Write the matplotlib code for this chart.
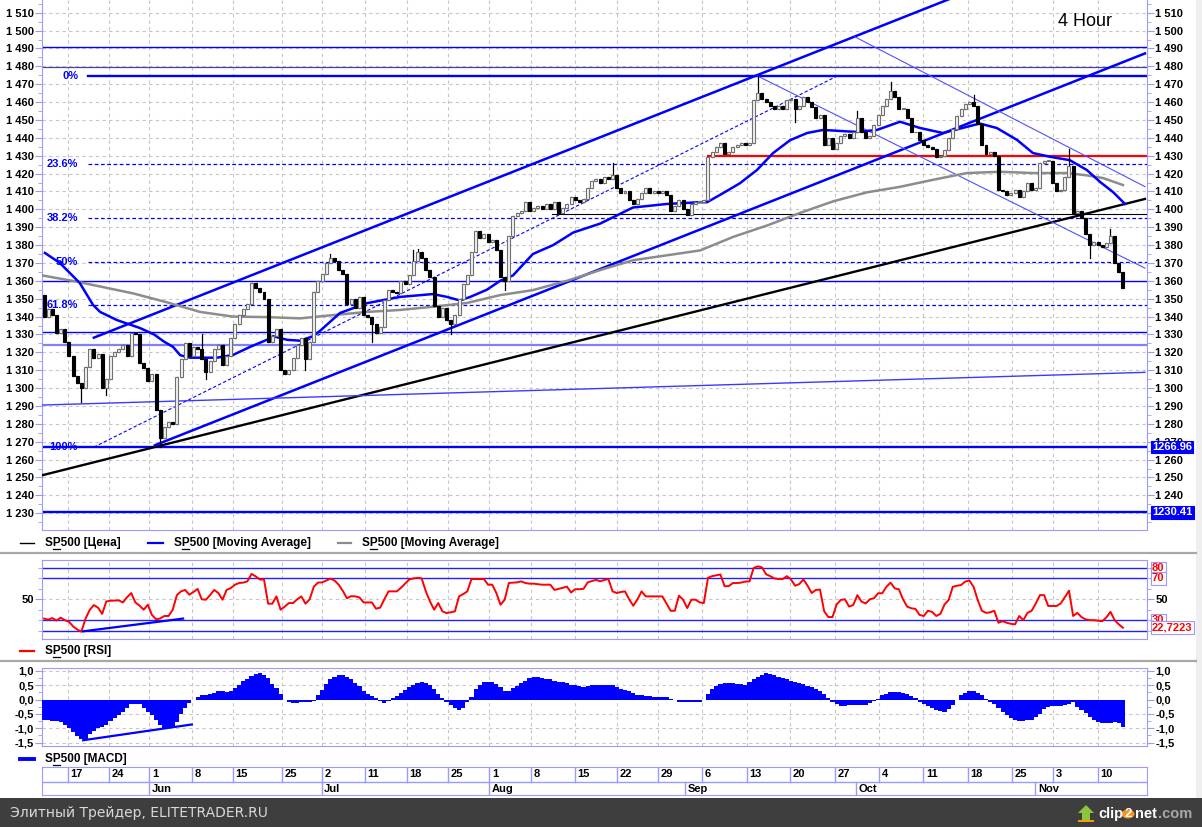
import matplotlib
matplotlib.use('Agg')
import matplotlib.pyplot as plt
from matplotlib.patches import Rectangle, Circle, Polygon
from matplotlib.lines import Line2D
from matplotlib.ticker import MultipleLocator, FixedLocator, FuncFormatter

plt.rcParams['font.family'] = ['Liberation Sans', 'DejaVu Sans']
plt.rcParams['font.weight'] = 'bold'

# ---------------- data (bar index = one 4-hour bar) ----------------
first_open = 1352
closes = [
    1340, 1344, 1341, 1331, 1333, 1326, 1318, 1307, 1303, 1300,
    1312, 1322, 1317, 1319, 1300, 1305, 1318, 1320, 1322, 1324,
    1318, 1331, 1330, 1314, 1311, 1304, 1308, 1288, 1272, 1278,
    1281, 1280, 1306, 1316, 1325, 1318, 1323, 1322, 1316, 1309,
    1315, 1322, 1324, 1313, 1318, 1328, 1336, 1341, 1344, 1347,
    1359, 1356, 1354, 1350, 1326, 1329, 1333, 1310, 1308, 1310,
    1317, 1324, 1328, 1316, 1326, 1354, 1360, 1364, 1370, 1373,
    1371, 1366, 1364, 1347, 1350, 1345, 1351, 1341, 1340, 1336,
    1331, 1334, 1349, 1355, 1354, 1353, 1360, 1358, 1363, 1371,
    1376, 1373, 1366, 1362, 1346, 1340, 1345, 1338, 1336, 1341,
    1350, 1358, 1363, 1376, 1388, 1384, 1386, 1382, 1383, 1377,
    1362, 1360, 1385, 1396, 1398, 1399, 1404, 1399, 1401, 1402,
    1400, 1403, 1400, 1404, 1398, 1401, 1403, 1407, 1405, 1404,
    1406, 1412, 1416, 1417, 1415, 1418, 1417, 1419, 1412, 1409,
    1410, 1405, 1403, 1406, 1409, 1412, 1409, 1410, 1409, 1410,
    1408, 1399, 1402, 1405, 1400, 1397, 1403, 1404, 1404, 1405,
    1429, 1432, 1435, 1437, 1431, 1432, 1435, 1436, 1437, 1436,
    1437, 1461, 1465, 1462, 1460, 1458, 1456, 1458, 1456, 1461,
    1462, 1456, 1458, 1463, 1460, 1457, 1451, 1453, 1436, 1440,
    1434, 1437, 1441, 1442, 1440, 1443, 1451, 1443, 1440, 1441,
    1447, 1453, 1458, 1462, 1466, 1463, 1456, 1456, 1451, 1443,
    1443, 1439, 1436, 1435, 1434, 1429, 1430, 1433, 1440, 1445,
    1452, 1456, 1459, 1460, 1458, 1448, 1436, 1431, 1432, 1430,
    1411, 1410, 1408, 1409, 1411, 1407, 1410, 1415, 1411, 1412,
    1426, 1427, 1427, 1415, 1410, 1411, 1418, 1424, 1398, 1399,
    1395, 1386, 1380, 1382, 1380, 1379, 1381, 1385, 1370, 1365,
    1356]
wick_hi = {38: 1330, 69: 1375, 89: 1377, 90: 1378, 137: 1426, 172: 1474.5,
           196: 1455, 204: 1471, 224: 1464, 247: 1434, 257: 1389}
wick_lo = {9: 1292, 15: 1296, 28: 1267, 39: 1305, 63: 1310, 79: 1326,
           98: 1330, 111: 1355, 181: 1449, 252: 1373}

ma_fast_x = [0.2, 3.8, 8.6, 11.8, 13.5, 17.6, 23.1, 26.5, 28.9, 31.1, 32.8, 35.2, 41.7, 45.5,
             49.6, 53.7, 55.2, 58.6, 61.7, 64.8, 66.5, 71.3, 77.8, 85.8, 93.7,
             97.1, 100.2, 102.7, 106.7, 109.9, 113.0, 117.8, 122.7, 127.5, 134.0,
             141.9, 150.1, 158.1, 159.8, 163.6, 167.7, 171.8, 175.7, 179.8, 183.9,
             187.7, 195.9, 200.7, 206.3, 211.1, 216.6, 225.5, 229.6, 234.5, 238.3,
             242.4, 247.2, 251.3, 254.5, 257.6, 260.5]
ma_fast_y = [1375.6, 1370, 1358.8, 1346.5, 1342.6, 1338, 1333.6, 1330, 1326, 1323, 1318.4, 1317, 1317, 1318.5,
             1323, 1327, 1329, 1327, 1326.5, 1329, 1332, 1342, 1347.5, 1351, 1352.6,
             1351, 1349, 1351, 1355, 1360, 1363, 1375, 1380, 1387, 1392,
             1401, 1403, 1404, 1404, 1409, 1414.6, 1422, 1431.5, 1438.7, 1442.7,
             1444.4, 1443.3, 1444.4, 1449, 1445.5, 1442.7, 1448, 1445.5, 1438.8, 1431.5,
             1429.4, 1427.5, 1422, 1415.3, 1409.7, 1403]
ma_slow_x = [-0.4, 8.0, 21.4, 29.6, 37.6, 45.5, 53.7, 61.7, 69.6, 77.8, 85.8, 93.7,
             101.9, 109.9, 117.8, 126.0, 134.0, 141.9, 158.1, 166.1, 174.3, 182.2,
             190.2, 198.3, 206.3, 214.2, 222.4, 230.4, 238.3, 246.5, 251.3, 255.2, 260.0]
ma_slow_y = [1363, 1359.5, 1353, 1348, 1342.6, 1340, 1339.7, 1339, 1340.8, 1342.6, 1343.7, 1345.5,
             1347.6, 1352, 1354.8, 1360, 1366, 1371.5, 1377, 1384.6, 1391, 1398,
             1404.5, 1409.5, 1412.6, 1416.5, 1420.3, 1421, 1420.3, 1420.3, 1419, 1417.5, 1413.6]

rsi = [
    31.5, 30.5, 32, 29.6, 32.4, 30, 28.5, 24, 21, 19,
    31.6, 39.8, 44.5, 42, 36, 48, 48.6, 48.8, 49, 47,
    52, 56, 47, 44, 40, 44.8, 35, 30.8, 31.7, 34,
    34, 40, 54, 57.6, 59, 54.4, 57, 60, 50, 49.6,
    54, 59, 56, 49.6, 59, 60.8, 64, 65.6, 66, 67.2,
    74.3, 72, 69, 69, 45.8, 45.8, 52.8, 40, 43, 46.4,
    46.4, 50, 52.8, 45.8, 50, 62, 66, 66.2, 68, 69.8,
    68, 64, 58, 51, 53, 52.8, 51.8, 47, 47, 47,
    41, 42, 50, 57.6, 57.6, 57.6, 61, 65, 69, 70,
    70.6, 70, 57.6, 48, 40, 46.4, 38.4, 36.8, 37.5, 38.4,
    52.8, 55, 57.6, 69.4, 69.4, 69.4, 69.4, 64, 64, 56,
    44.8, 49.6, 65.6, 66, 66.2, 67.2, 65.6, 65, 65, 64.5,
    64, 64, 64, 59, 60, 61, 62.2, 56.5, 59.7, 59.7,
    60, 66.2, 67.5, 68.7, 67.2, 68.5, 69.4, 57.6, 56, 57,
    57.6, 50, 43.8, 50, 57.6, 52.8, 52.8, 52.8, 52.8, 52.8,
    46, 39, 39, 53.5, 49.6, 41.6, 49.6, 49.6, 47, 46.4,
    70.6, 72.2, 73, 73.8, 62.6, 62.6, 65.6, 65.6, 66, 67,
    67.2, 80, 81.6, 80.6, 74, 72.2, 70, 69.4, 69.4, 72.2,
    69, 63, 64.6, 69, 63, 56, 59, 59.3, 38.5, 33,
    33, 45, 49.4, 50, 43, 44.5, 54, 47.8, 46, 50,
    51, 55.8, 55.8, 62, 66, 60.5, 59.6, 50, 43, 41.4,
    40.8, 35, 34, 39, 38, 34, 36, 45, 49.4, 62,
    63, 63.7, 67, 68, 62, 49.4, 39, 37, 37.5, 39,
    27.5, 29, 27.5, 26.5, 26, 34, 30, 37, 39, 46,
    54, 54, 43.6, 43.6, 43.6, 46, 52, 58.3, 34, 37,
    33, 30.8, 30, 30, 29.5, 29, 32.6, 38, 30, 26,
    22.7223]

macd = [
    -0.72, -0.73, -0.75, -0.76, -0.80, -0.90, -1.00, -1.13, -1.27, -1.38,
    -1.40, -1.20, -1.10, -1.00, -0.96, -0.88, -0.76, -0.64, -0.55, -0.43,
    -0.30, -0.17, -0.14, -0.15, -0.30, -0.45, -0.55, -0.70, -0.90, -0.98,
    -1.01, -0.95, -0.78, -0.50, -0.28, -0.12, -0.02, 0.08, 0.16, 0.16,
    0.20, 0.24, 0.30, 0.30, 0.25, 0.30, 0.40, 0.52, 0.64, 0.70,
    0.82, 0.89, 0.92, 0.87, 0.75, 0.55, 0.40, 0.20, 0.00, -0.10,
    -0.13, -0.12, -0.10, -0.08, -0.10, -0.06, 0.15, 0.32, 0.55, 0.72,
    0.80, 0.86, 0.86, 0.80, 0.70, 0.58, 0.47, 0.30, 0.20, 0.12,
    0.05, -0.05, -0.12, -0.05, 0.04, 0.12, 0.22, 0.32, 0.42, 0.51,
    0.56, 0.60, 0.56, 0.50, 0.35, 0.20, 0.05, -0.08, -0.20, -0.30,
    -0.36, -0.28, -0.10, 0.08, 0.35, 0.50, 0.60, 0.62, 0.62, 0.55,
    0.42, 0.28, 0.30, 0.39, 0.48, 0.58, 0.66, 0.74, 0.77, 0.77,
    0.76, 0.73, 0.70, 0.66, 0.62, 0.60, 0.56, 0.52, 0.50, 0.46,
    0.45, 0.48, 0.50, 0.51, 0.51, 0.52, 0.52, 0.51, 0.45, 0.38,
    0.33, 0.28, 0.22, 0.16, 0.14, 0.13, 0.12, 0.10, 0.10, 0.10,
    0.10, 0.03, -0.03, -0.08, -0.10, -0.10, -0.10, -0.10, -0.09, 0.00,
    0.20, 0.35, 0.47, 0.53, 0.57, 0.57, 0.56, 0.55, 0.53, 0.51,
    0.60, 0.71, 0.80, 0.87, 0.92, 0.90, 0.84, 0.80, 0.76, 0.71,
    0.66, 0.62, 0.57, 0.54, 0.48, 0.42, 0.36, 0.30, 0.20, 0.05,
    -0.08, -0.16, -0.23, -0.22, -0.20, -0.20, -0.20, -0.20, -0.18, -0.13,
    -0.06, 0.02, 0.14, 0.20, 0.26, 0.27, 0.26, 0.24, 0.20, 0.12,
    0.06, -0.08, -0.16, -0.22, -0.30, -0.36, -0.40, -0.44, -0.34, -0.20,
    -0.02, 0.14, 0.24, 0.29, 0.31, 0.22, 0.14, 0.02, -0.08, -0.14,
    -0.28, -0.42, -0.54, -0.66, -0.71, -0.74, -0.74, -0.73, -0.71, -0.60,
    -0.49, -0.32, -0.25, -0.24, -0.23, -0.22, -0.20, -0.15, -0.10, -0.25,
    -0.36, -0.47, -0.62, -0.72, -0.80, -0.82, -0.82, -0.82, -0.78, -0.82,
    -0.95]

day_pos = [5.7, 15.7, 25.4, 35.6, 45.5, 57.3, 66.9, 77.3, 87.4, 97.4, 107.3, 117.3, 128.0,
           138.0, 148.0, 158.5, 169.3, 179.8, 190.6, 201.3, 211.9, 222.6, 233.2, 243.2, 253.9]
day_labels = ['17', '24', '1', '8', '15', '25', '2', '11', '18', '25', '1', '8', '15',
              '22', '29', '6', '13', '20', '27', '4', '11', '18', '25', '3', '10']
month_pos = [25.4, 66.9, 107.3, 154.4, 195.6, 238.9]
month_labels = ['Jun', 'Jul', 'Aug', 'Sep', 'Oct', 'Nov']

# drawn studies (bar index, price)
fib_hi, fib_lo = 1474.51, 1266.96
fib_ratios = [0, 23.6, 38.2, 50, 61.8]
fib_start = 10.6
support_x, support_y = [-0.5, 265.3], [1251.2, 1405.8]
chan_lo_x, chan_lo_y = [26.7, 265.3], [1268.0, 1487.2]
chan_hi_x, chan_hi_y = [12.0, 225.0], [1328.2, 1523.9]
fib_diag_x, fib_diag_y = [12.0, 191.1], [1266.96, 1474.51]
down_hi_x, down_hi_y = [195.4, 265.3], [1496.5, 1412.7]
down_lo_x, down_lo_y = [172.0, 265.3], [1474.51, 1367.1]
drift_x, drift_y = [-0.5, 265.3], [1290.5, 1308.8]
red_level, red_start = 1429.7, 160.0
black_level, black_start = 1397.3, 122.4
thin_levels = [1490.8, 1359.7, 1331.3]
dark_level = 1479.6
pale_level = 1324.3
tag_levels = [1266.96, 1230.41]
rsi_levels = [80, 70, 30, 20]
rsi_div_x, rsi_div_y = [9.4, 33.5], [19.3, 31.5]
macd_div_x, macd_div_y = [9.4, 35.6], [-1.42, -0.87]

# ---------------- figure ----------------
W, H = 1202, 827
fig = plt.figure(figsize=(W / 100, H / 100), dpi=100)
fig.patch.set_facecolor('white')

FRAME = '#9a9aff'
GRID = '#c6c6c6'
BLUE = '#0000ff'
XMIN, XMAX = -0.5, 265.8


def box(x0, y0, x1, y1):
    return [x0 / W, 1 - y1 / H, (x1 - x0) / W, (y1 - y0) / H]


def fpt(x, y):
    return x / W, 1 - y / H


def price_at(ypx):
    return 1510 - (ypx - 12.7) / 1.7875


def style(ax):
    ax.set_xlim(XMIN, XMAX)
    ax.set_xticks([])
    for s in ax.spines.values():
        s.set_color(FRAME)
    for d in day_pos:
        ax.axvline(d, color=GRID, lw=0.8, ls=(0, (3, 3)), zorder=0)
    ax.tick_params(axis='y', which='both', left=True, right=True, labelleft=True,
                   labelright=True, direction='out', color=FRAME, labelcolor='black',
                   labelsize=8, pad=1)
    ax.tick_params(axis='y', which='major', length=5)
    ax.tick_params(axis='y', which='minor', length=3)


def tag(ax, y, s, fc, tc, ec):
    ax.text(1.0045, y, s, transform=ax.get_yaxis_transform(), ha='left', va='center',
            fontsize=8, color=tc, zorder=20, clip_on=False,
            bbox=dict(boxstyle='square,pad=0.12', fc=fc, ec=ec, lw=0.8))


# ---- price panel ----
ax = fig.add_axes(box(42, -2, 1147, 530))
style(ax)
ax.spines['top'].set_visible(False)
ax.set_ylim(price_at(530), price_at(-2))
ax.yaxis.set_major_locator(MultipleLocator(10))
ax.yaxis.set_minor_locator(MultipleLocator(5))
ax.yaxis.set_major_formatter(FuncFormatter(
    lambda v, p: f'{int(round(v)) // 1000} {int(round(v)) % 1000:03d}'))
for lv in range(1230, 1520, 10):
    ax.axhline(lv, color=GRID, lw=0.8, ls=(0, (3, 3)), zorder=0)
# the right-hand 1 230 label sits under the 1230.41 price tag
for t, loc in zip(ax.yaxis.get_major_ticks(), ax.yaxis.get_majorticklocs()):
    if abs(loc - 1230) < 0.5:
        t.label2.set_visible(False)

# horizontal levels
for lv in thin_levels:
    ax.axhline(lv, color=BLUE, lw=1.0, zorder=2)
ax.axhline(dark_level, color='#46469a', lw=0.9, zorder=2)
ax.axhline(pale_level, color='#8080ff', lw=1.6, zorder=2)
for lv in tag_levels:
    ax.axhline(lv, color=BLUE, lw=1.7, zorder=2)
    tag(ax, lv, f'{lv:.2f}', BLUE, 'white', BLUE)
ax.plot([red_start, XMAX], [red_level] * 2, color='#ff0000', lw=1.6, zorder=2)
ax.plot([black_start, XMAX], [black_level] * 2, color='black', lw=0.8, zorder=2)

# fibonacci
for r in fib_ratios:
    lv = fib_hi - r / 100 * (fib_hi - fib_lo)
    if r == 0:
        ax.plot([fib_start, XMAX], [lv, lv], color=BLUE, lw=1.7, zorder=2)
    else:
        ax.plot([fib_start, XMAX], [lv, lv], color=BLUE, lw=0.9, ls=(0, (3, 2)), zorder=2)
    ax.text(8.2, lv, f'{r:g}%', ha='right', va='center', color=BLUE, fontsize=8, zorder=6)
ax.text(8.2, fib_lo, '100%', ha='right', va='center', color=BLUE, fontsize=8, zorder=6)
ax.plot(fib_diag_x, fib_diag_y, color=BLUE, lw=0.8, ls=(0, (3, 2)), zorder=2)

# trend lines
ax.plot(support_x, support_y, color='black', lw=1.7, zorder=3)
ax.plot(chan_lo_x, chan_lo_y, color=BLUE, lw=1.8, zorder=3)
ax.plot(chan_hi_x, chan_hi_y, color=BLUE, lw=1.8, zorder=3)
ax.plot(down_hi_x, down_hi_y, color='#5050ff', lw=0.8, zorder=3)
ax.plot(down_lo_x, down_lo_y, color='#5050ff', lw=0.8, zorder=3)
ax.plot(drift_x, drift_y, color='#3a3aff', lw=1.0, zorder=3)

# moving averages
ax.plot(ma_slow_x, ma_slow_y, color='#8c8c8c', lw=1.8, zorder=4)
ax.plot(ma_fast_x, ma_fast_y, color=BLUE, lw=1.8, zorder=4)

# candles
opens = [first_open] + closes[:-1]
for i, (o, c) in enumerate(zip(opens, closes)):
    hi = wick_hi.get(i, max(o, c))
    lo = wick_lo.get(i, min(o, c))
    ax.plot([i, i], [lo, hi], color='black', lw=0.9, zorder=5)
    up = c >= o
    ax.add_patch(Rectangle((i - 0.36, min(o, c)), 0.72, max(abs(c - o), 0.5),
                           facecolor='#f2f2f2' if up else 'black',
                           edgecolor='#707070' if up else 'black', lw=0.8, zorder=6))

fig.text(*fpt(1085, 22), '4 Hour', ha='center', va='center', fontsize=13,
         fontweight='normal', color='black')

# ---- legends / separators ----
renderer = fig.canvas.get_renderer()


def legend_item(x0, x1, y, color, lw, label):
    fig.add_artist(Line2D([x0 / W, x1 / W], [1 - y / H] * 2, color=color, lw=lw))
    xt = x1 + 11
    fig.text(*fpt(xt, y), label, ha='left', va='center', fontsize=8.5)
    # underlined hot-key letter "P" of SP500
    w_s = fig.text(0, 0, 'S', fontsize=8.5).get_window_extent(renderer).width
    w_sp = fig.text(0, 0, 'SP', fontsize=8.5).get_window_extent(renderer).width
    fig.texts[-1].remove()
    fig.texts[-1].remove()
    fig.add_artist(Line2D([(xt + w_s) / W, (xt + w_sp - 1) / W], [1 - (y + 6) / H] * 2,
                          color='black', lw=0.9))


legend_item(20, 34, 543, 'black', 1.0, 'SP500 [Цена]')
legend_item(148, 163, 543, BLUE, 1.6, 'SP500 [Moving Average]')
legend_item(338, 351, 543, '#8c8c8c', 1.6, 'SP500 [Moving Average]')
legend_item(20, 34, 651, '#ff0000', 1.6, 'SP500 [RSI]')
legend_item(20, 34, 759, BLUE, 2.8, 'SP500 [MACD]')
for ys in (552.5, 661):
    fig.add_artist(Line2D([0, 1196 / W], [1 - ys / H] * 2, color='#a8a8a8', lw=1.6))

# ---- RSI panel ----
ar = fig.add_axes(box(42, 560, 1147, 639))
style(ar)
ar.set_ylim(50 - 39.7 / 1.043, 50 + 39.3 / 1.043)
ar.yaxis.set_major_locator(FixedLocator([50]))
ar.yaxis.set_minor_locator(FixedLocator([20, 30, 40, 60, 70, 80]))
ar.axhline(50, color=GRID, lw=0.8, ls=(0, (3, 3)), zorder=0)
for lv in rsi_levels:
    ar.axhline(lv, color='#2020ff', lw=1.0, zorder=2)
ar.plot(range(len(rsi)), rsi, color='#ff0000', lw=1.4, zorder=4)
ar.plot(rsi_div_x, rsi_div_y, color=BLUE, lw=1.6, zorder=5)
for lv in (80, 70, 30):
    tag(ar, lv, str(lv), 'white', '#ff0000', FRAME)
tag(ar, rsi[-1], f'{rsi[-1]:.4f}'.replace('.', ','), 'white', '#ff0000', FRAME)

# ---- MACD panel ----
am = fig.add_axes(box(42, 668, 1147, 746))
style(am)
am.set_ylim(-(746 - 699.5) / 28.7, (699.5 - 668) / 28.7)
am.yaxis.set_major_locator(FixedLocator([-1.5, -1.0, -0.5, 0.0, 0.5, 1.0]))
am.yaxis.set_minor_locator(MultipleLocator(0.25))
am.yaxis.set_major_formatter(FuncFormatter(lambda v, p: f'{v:.1f}'.replace('.', ',')))
for lv in (-1.5, -1.0, -0.5, 0.5, 1.0):
    am.axhline(lv, color=GRID, lw=0.8, ls=(0, (3, 3)), zorder=0)
am.bar(range(len(macd)), macd, width=1.0, color=BLUE, lw=0, zorder=3)
am.plot(macd_div_x, macd_div_y, color=BLUE, lw=1.6, zorder=5)

# ---- date axis ----
ad = fig.add_axes(box(42, 767, 1147, 795))
ad.set_xlim(XMIN, XMAX)
ad.set_ylim(0, 1)
ad.set_xticks([])
ad.set_yticks([])
for s in ad.spines.values():
    s.set_color(FRAME)
ad.axhline(0.475, color=FRAME, lw=1.0)
for d, lab in zip(day_pos, day_labels):
    ad.plot([d, d], [0.475, 1], color=FRAME, lw=1.0)
    ad.text(d + 0.6, 0.74, lab, ha='left', va='center', fontsize=8)
for d, lab in zip(month_pos, month_labels):
    ad.plot([d, d], [0, 0.475], color=FRAME, lw=1.0)
    ad.text(d + 0.6, 0.23, lab, ha='left', va='center', fontsize=8)

# ---- frame decorations ----
fig.add_artist(Rectangle((1196 / W, 1 - 798 / H), 6 / W, 798 / H, transform=fig.transFigure,
                         facecolor='#efefef', edgecolor='none'))
fig.add_artist(Rectangle((0, 0), 1, 29 / H, transform=fig.transFigure,
                         facecolor='#3e3e3e', edgecolor='none'))
fig.text(*fpt(10, 813), 'Элитный Трейдер, ELITETRADER.RU', ha='left', va='center',
         fontsize=10, fontweight='normal', color='#d8d8d8', family=['DejaVu Sans'])
fig.add_artist(Polygon([fpt(1086, 805), fpt(1094, 813), fpt(1090, 813), fpt(1090, 820),
                        fpt(1082, 820), fpt(1082, 813), fpt(1078, 813)],
                       closed=True, transform=fig.transFigure, facecolor='#8cc63f',
                       edgecolor='none'))
fig.add_artist(Rectangle(fpt(1078, 822), 16 / W, 2 / H, transform=fig.transFigure,
                         facecolor='#f39c12', edgecolor='none'))
fig.text(*fpt(1098, 814), 'clip', ha='left', va='center', fontsize=10.5, color='white')
fig.add_artist(Circle(fpt(1128, 814), 6.5 / W, transform=fig.transFigure,
                      facecolor='#f7941d', edgecolor='none'))
fig.text(*fpt(1128, 814), '2', ha='center', va='center', fontsize=9.5, color='white')
fig.text(*fpt(1135, 814), 'net', ha='left', va='center', fontsize=10.5, color='white')
fig.text(*fpt(1158, 814), '.com', ha='left', va='center', fontsize=10.5, color='#a8a8a8')

fig.savefig('out.png', dpi=100)
